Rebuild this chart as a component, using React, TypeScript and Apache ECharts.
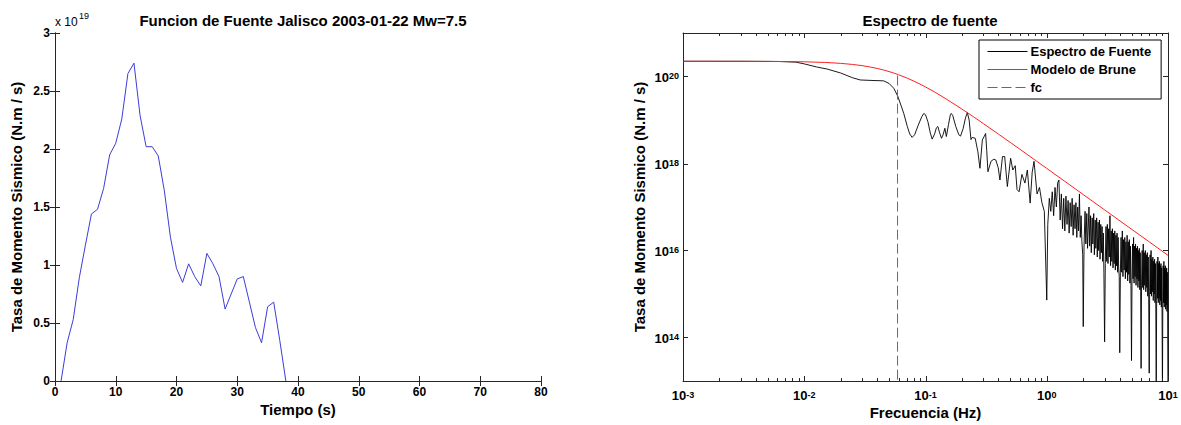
import React, { useEffect, useRef } from "react";
import * as echarts from "echarts";

const FONT = "'Liberation Sans', Arial, Helvetica, sans-serif";
const AXIS_COLOR = "#262626";

// ---------- Left panel: source time function (units of 1e19 N.m/s) ----------
const timeSeconds = [
  1, 2, 3, 4, 5, 6, 7, 8, 9, 10, 11, 12, 13, 14, 15, 16, 17, 18, 19, 20,
  21, 22, 23, 24, 25, 26, 27, 28, 29, 30, 31, 32, 33, 34, 35, 36, 37, 38,
];
const momentRateE19 = [
  0, 0.33, 0.53, 0.89, 1.17, 1.44, 1.48, 1.66, 1.95, 2.05, 2.26, 2.65, 2.74,
  2.29, 2.02, 2.02, 1.94, 1.64, 1.24, 0.97, 0.85, 1.01, 0.9, 0.82, 1.1, 1.01,
  0.9, 0.62, 0.75, 0.88, 0.9, 0.68, 0.46, 0.33, 0.64, 0.68, 0.35, 0,
];
const leftTitle = "Funcion de Fuente Jalisco 2003-01-22 Mw=7.5";
const leftXName = "Tiempo (s)";
const yName = "Tasa de Momento Sismico (N.m / s)";

// ---------- Right panel: source spectrum, [Hz, log10(N.m/s)] ----------
const sourceSpectrum: [number, number][] = [
  [0.001, 20.35], [0.00316, 20.35], [0.0063, 20.345], [0.0085, 20.33],
  [0.01, 20.29], [0.0126, 20.22], [0.0155, 20.17], [0.02, 20.08],
  [0.0251, 19.97], [0.029, 19.92], [0.0355, 19.91], [0.0452, 19.9],
  [0.0501, 19.84], [0.0547, 19.73], [0.059, 19.55], [0.0631, 19.32],
  [0.0662, 19.15], [0.0708, 18.85], [0.0741, 18.68], [0.0776, 18.6],
  [0.0813, 18.66], [0.0871, 18.88], [0.0933, 19.08], [0.0968, 19.15],
  [0.1, 19.12], [0.1047, 18.96], [0.1096, 18.7], [0.1135, 18.56],
  [0.1189, 18.68], [0.123, 18.82], [0.1265, 18.85], [0.1303, 18.72],
  [0.1355, 18.58], [0.1396, 18.66], [0.1445, 18.81], [0.1486, 18.62],
  [0.1549, 18.9], [0.1603, 19.12], [0.1633, 19.15], [0.1679, 19.1],
  [0.1778, 18.85], [0.1884, 18.66], [0.1945, 18.63], [0.2042, 18.8],
  [0.2138, 19.05], [0.2213, 19.17], [0.2291, 19.0], [0.2371, 18.55],
  [0.2427, 18.6], [0.257, 18.58], [0.2704, 18.27], [0.2812, 17.89],
  [0.2944, 18.54], [0.3133, 18.69], [0.3199, 18.3], [0.3273, 17.81],
  [0.3467, 18.05], [0.3664, 18.1], [0.3802, 18.08], [0.3981, 17.9],
  [0.4111, 17.62], [0.4315, 18.16], [0.4498, 18.16], [0.4732, 17.47],
  [0.5035, 18.12], [0.5248, 17.85], [0.5495, 17.95], [0.5689, 17.4],
  [0.5916, 17.35], [0.6237, 17.75], [0.6607, 17.55], [0.6918, 17.85],
  [0.7295, 17.09], [0.7586, 17.8], [0.7852, 18.05], [0.8318, 17.3],
  [0.871, 17.45], [0.912, 17.1], [0.955, 16.9], [1.0, 14.86],
  [1.02, 16.6], [1.05, 17.2], [1.08, 16.9], [1.11, 17.35], [1.14, 16.8],
  [1.17, 17.45], [1.2, 17.0], [1.23, 17.55], [1.26, 17.62], [1.29, 16.7],
  [1.32, 17.3], [1.35, 16.5], [1.38, 17.2], [1.41, 16.45], [1.44, 17.25],
  [1.47, 16.6], [1.5, 17.15], [1.53, 16.4], [1.56, 17.1], [1.59, 16.55],
  [1.62, 17.2], [1.65, 16.35], [1.68, 17.05], [1.71, 16.5], [1.74, 17.1],
  [1.77, 16.3], [1.8, 17.0], [1.83, 16.45], [1.86, 17.3], [1.89, 16.3],
  [1.92, 16.8], [1.95, 16.2], [1.98, 15.9], [2.0, 14.25],
  [2.03, 16.1], [2.07, 16.9], [2.1, 16.15], [2.14, 16.85], [2.17, 16.05],
  [2.23, 17.0], [2.26, 16.1], [2.3, 16.8], [2.33, 15.95], [2.37, 16.75],
  [2.4, 16.15], [2.44, 16.85], [2.47, 15.9], [2.51, 16.7], [2.54, 16.05],
  [2.58, 16.75], [2.61, 15.85], [2.65, 16.65], [2.68, 16.0], [2.72, 16.7],
  [2.75, 15.8], [2.79, 16.6], [2.82, 15.95], [2.86, 16.55], [2.89, 15.75],
  [2.93, 16.4], [2.96, 15.5], [3.0, 13.9],
  [3.04, 15.7], [3.08, 16.55], [3.12, 15.75], [3.16, 16.6], [3.2, 15.7],
  [3.24, 16.5], [3.28, 15.85], [3.32, 16.8], [3.36, 15.65], [3.4, 16.45],
  [3.44, 15.75], [3.48, 16.5], [3.52, 15.6], [3.56, 16.4], [3.6, 15.7],
  [3.64, 16.45], [3.68, 15.55], [3.72, 16.35], [3.76, 15.65], [3.8, 16.4],
  [3.84, 15.5], [3.88, 16.3], [3.92, 15.6], [3.96, 15.4], [4.0, 13.65],
  [4.05, 15.5], [4.1, 16.3], [4.15, 15.5], [4.2, 16.45], [4.25, 15.4],
  [4.3, 16.25], [4.35, 15.55], [4.4, 16.3], [4.45, 15.35], [4.5, 16.2],
  [4.55, 15.5], [4.6, 16.35], [4.65, 15.3], [4.7, 16.2], [4.75, 15.45],
  [4.8, 16.25], [4.85, 15.25], [4.9, 16.1], [4.95, 15.2], [5.0, 13.47],
  [5.05, 15.35], [5.1, 16.15], [5.15, 15.35], [5.2, 16.3], [5.25, 15.25],
  [5.3, 16.1], [5.35, 15.4], [5.4, 16.15], [5.45, 15.2], [5.5, 16.05],
  [5.55, 15.35], [5.6, 16.1], [5.65, 15.15], [5.7, 16.0], [5.75, 15.3],
  [5.8, 16.05], [5.85, 15.1], [5.9, 15.95], [5.95, 15.05], [6.0, 13.29],
  [6.05, 15.2], [6.12, 16.0], [6.18, 15.15], [6.25, 16.15], [6.3, 15.1],
  [6.37, 15.95], [6.43, 15.2], [6.5, 16.0], [6.56, 15.05], [6.62, 15.9],
  [6.68, 15.15], [6.75, 15.95], [6.81, 14.95], [6.87, 15.85], [6.93, 14.9],
  [7.0, 13.18],
  [7.06, 15.05], [7.12, 15.9], [7.18, 15.0], [7.25, 16.0], [7.31, 14.95],
  [7.37, 15.8], [7.43, 15.05], [7.5, 15.85], [7.56, 14.85], [7.62, 15.75],
  [7.68, 15.0], [7.75, 15.8], [7.81, 14.8], [7.87, 15.7], [7.93, 14.7],
  [8.0, 12.8],
  [8.06, 14.85], [8.12, 15.75], [8.18, 14.9], [8.25, 15.85], [8.31, 14.8],
  [8.37, 15.7], [8.43, 14.9], [8.5, 15.75], [8.56, 14.75], [8.62, 15.65],
  [8.68, 14.85], [8.75, 15.7], [8.81, 14.7], [8.87, 15.6], [8.93, 14.65],
  [9.0, 12.7],
  [9.06, 14.75], [9.12, 15.65], [9.18, 14.8], [9.25, 15.75], [9.31, 14.7],
  [9.37, 15.6], [9.43, 14.8], [9.5, 15.65], [9.56, 14.65], [9.62, 15.55],
  [9.68, 14.75], [9.75, 15.6], [9.81, 14.6], [9.87, 15.5], [9.93, 14.65],
  [10.0, 12.6],
];

// Brune model, [Hz, log10(N.m/s)]
const bruneModel: [number, number][] = [
  [0.001, 20.35], [0.002, 20.349], [0.005, 20.347], [0.01, 20.338],
  [0.015, 20.323], [0.02, 20.302], [0.025, 20.277], [0.03, 20.25],
  [0.035, 20.218], [0.04, 20.185], [0.045, 20.15], [0.05, 20.114],
  [0.055, 20.077], [0.06, 20.04], [0.07, 19.967], [0.08, 19.895],
  [0.09, 19.826], [0.1, 19.76], [0.12, 19.637], [0.15, 19.474],
  [0.2, 19.25], [0.25, 19.07], [0.3, 18.918], [0.4, 18.675],
  [0.5, 18.485], [0.7, 18.196], [1, 17.887], [1.5, 17.536],
  [2, 17.286], [3, 16.934], [5, 16.49], [7, 16.199], [10, 15.889],
];

// corner frequency marker
const fcHz = 0.0588;
const fcTopLog = 20.02;
const fcBottomLog = 13;

const rightTitle = "Espectro de fuente";
const rightXName = "Frecuencia (Hz)";
const legendNames = ["Espectro de Fuente", "Modelo de Brune", "fc"];
const legendColors = ["#000000", "#ff2020", "#ff00ff"];

// axis ranges (log axes given as exponents)
const rightXExp = [-3, 1];
const rightYExp = [13, 21];
const rightYMajorExp = [14, 16, 18, 20];
const minorMultipliers = [2, 3, 4, 5, 6, 7, 8, 9];

const labelRich = {
  b: { fontSize: 13, fontWeight: "bold", fontFamily: FONT, color: "#000", lineHeight: 12, verticalAlign: "bottom" },
  s: { fontSize: 9, fontWeight: "bold", fontFamily: FONT, color: "#000", lineHeight: 8, padding: [0, 0, 6, 0], verticalAlign: "top" },
};

function buildOption() {
  const leftGrid = { left: 55, top: 33, width: 486, height: 348 };
  const rightGrid = { left: 683, top: 33, width: 485, height: 348 };

  const boldLabel = { color: "#000", fontWeight: "bold", fontSize: 12, fontFamily: FONT };
  const nameStyle = { color: "#000", fontWeight: "bold", fontSize: 15, fontFamily: FONT };
  const axisLine = { show: true, lineStyle: { color: AXIS_COLOR, width: 1 } };

  // tick items for the right panel: [x, y, length, orientation(0=x,1=y)]
  const tickData: number[][] = [];
  for (let e = rightXExp[0]; e <= rightXExp[1]; e++) {
    tickData.push([Math.pow(10, e), 1e17, 5, 0]);
    if (e < rightXExp[1]) {
      minorMultipliers.forEach((m) => tickData.push([m * Math.pow(10, e), 1e17, 3, 0]));
    }
  }
  rightYMajorExp.forEach((e) => tickData.push([0.01, Math.pow(10, e), 5, 1]));

  const logFormatter = (onlyEven: boolean) => (v: number) => {
    const e = Math.round(Math.log10(v));
    if (onlyEven && e % 2 !== 0) return "";
    return `{b|10}{s|${e}}`;
  };

  return {
    animation: false,
    backgroundColor: "#ffffff",
    textStyle: { fontFamily: FONT },
    title: [
      {
        text: leftTitle,
        left: 298,
        top: 8,
        textAlign: "center",
        textStyle: { fontSize: 15, fontWeight: "bold", fontFamily: FONT, color: "#000" },
      },
      {
        text: rightTitle,
        left: 925,
        top: 8,
        textAlign: "center",
        textStyle: { fontSize: 15, fontWeight: "bold", fontFamily: FONT, color: "#000" },
      },
    ],
    legend: {
      data: legendNames,
      left: 979,
      top: 40,
      orient: "vertical",
      itemWidth: 40,
      itemHeight: 14,
      itemGap: 5,
      padding: [5, 10, 5, 8],
      borderColor: "#000",
      borderWidth: 1,
      borderRadius: 0,
      backgroundColor: "#fff",
      selectedMode: false,
      itemStyle: { opacity: 0 },
      lineStyle: { width: 1, color: "inherit" },
      textStyle: { color: "#000", fontWeight: "bold", fontSize: 13, fontFamily: FONT, padding: [0, 0, 0, -2] },
    },
    graphic: [
      { type: "text", x: 55, y: 22, style: { text: "x 10", fill: "#000", font: `12px ${FONT}`, verticalAlign: "middle" } },
      { type: "text", x: 79, y: 15.5, style: { text: "19", fill: "#000", font: `9px ${FONT}`, verticalAlign: "middle" } },
    ],
    grid: [
      { ...leftGrid, containLabel: false, outerBoundsMode: "none" },
      { ...rightGrid, containLabel: false, outerBoundsMode: "none" },
    ],
    xAxis: [
      {
        type: "value", gridIndex: 0, min: 0, max: 80, interval: 10, position: "bottom",
        axisLine, axisTick: { show: true, inside: true, length: 5, lineStyle: { color: AXIS_COLOR } },
        axisLabel: { ...boldLabel, margin: 5 }, splitLine: { show: false },
        name: leftXName, nameLocation: "middle", nameGap: 21, nameMoveOverlap: false, nameTextStyle: nameStyle,
      },
      {
        type: "value", gridIndex: 0, min: 0, max: 80, interval: 10, position: "top",
        axisLine, axisTick: { show: true, inside: true, length: 5, lineStyle: { color: AXIS_COLOR } },
        axisLabel: { show: false }, splitLine: { show: false },
      },
      {
        type: "log", logBase: 10, gridIndex: 1, min: Math.pow(10, rightXExp[0]), max: Math.pow(10, rightXExp[1]), position: "bottom",
        axisLine, axisTick: { show: false },
        axisLabel: { formatter: logFormatter(false), rich: labelRich, margin: 9 }, splitLine: { show: false },
        name: rightXName, nameLocation: "middle", nameGap: 24, nameMoveOverlap: false, nameTextStyle: nameStyle,
      },
      {
        type: "log", logBase: 10, gridIndex: 1, min: Math.pow(10, rightXExp[0]), max: Math.pow(10, rightXExp[1]), position: "top",
        axisLine, axisTick: { show: false }, axisLabel: { show: false }, splitLine: { show: false },
      },
    ],
    yAxis: [
      {
        type: "value", gridIndex: 0, min: 0, max: 3, interval: 0.5, position: "left",
        axisLine, axisTick: { show: true, inside: true, length: 5, lineStyle: { color: AXIS_COLOR } },
        axisLabel: { ...boldLabel, margin: 5 }, splitLine: { show: false },
        name: yName, nameLocation: "middle", nameGap: 31, nameMoveOverlap: false, nameRotate: 90, nameTextStyle: nameStyle,
      },
      {
        type: "value", gridIndex: 0, min: 0, max: 3, interval: 0.5, position: "right",
        axisLine, axisTick: { show: true, inside: true, length: 5, lineStyle: { color: AXIS_COLOR } },
        axisLabel: { show: false }, splitLine: { show: false },
      },
      {
        type: "log", logBase: 10, gridIndex: 1, min: Math.pow(10, rightYExp[0]), max: Math.pow(10, rightYExp[1]), position: "left",
        axisLine, axisTick: { show: false },
        axisLabel: { formatter: logFormatter(true), rich: labelRich, margin: 4, padding: [2, 0, 0, 0] }, splitLine: { show: false },
        name: yName, nameLocation: "middle", nameGap: 36, nameMoveOverlap: false, nameRotate: 90, nameTextStyle: nameStyle,
      },
      {
        type: "log", logBase: 10, gridIndex: 1, min: Math.pow(10, rightYExp[0]), max: Math.pow(10, rightYExp[1]), position: "right",
        axisLine, axisTick: { show: false }, axisLabel: { show: false }, splitLine: { show: false },
      },
    ],
    series: [
      {
        type: "line", name: "Funcion de fuente", xAxisIndex: 0, yAxisIndex: 0,
        data: timeSeconds.map((t, i) => [t, momentRateE19[i]]),
        symbol: "none", showSymbol: false,
        lineStyle: { color: "#3c3cd8", width: 1 },
        z: 3,
      },
      {
        type: "line", name: legendNames[0], xAxisIndex: 2, yAxisIndex: 2,
        data: sourceSpectrum.map(([f, e]) => [f, Math.pow(10, e)]),
        symbol: "none", showSymbol: false, color: legendColors[0],
        lineStyle: { color: legendColors[0], width: 0.9 },
        z: 3,
      },
      {
        type: "line", name: legendNames[1], xAxisIndex: 2, yAxisIndex: 2,
        data: bruneModel.map(([f, e]) => [f, Math.pow(10, e)]),
        symbol: "none", showSymbol: false, color: legendColors[1],
        lineStyle: { color: legendColors[1], width: 1 },
        z: 4,
      },
      {
        type: "line", name: legendNames[2], xAxisIndex: 2, yAxisIndex: 2,
        data: [[fcHz, Math.pow(10, fcTopLog)], [fcHz, Math.pow(10, fcBottomLog)]],
        symbol: "none", showSymbol: false, color: legendColors[2],
        lineStyle: { color: legendColors[2], width: 1, type: [10, 4] },
        z: 4,
      },
      {
        type: "custom", name: "ticks", xAxisIndex: 2, yAxisIndex: 2,
        silent: true, clip: false, z: 6,
        encode: { x: 0, y: 1 },
        data: tickData,
        renderItem: (params: any, api: any) => {
          const cs = params.coordSys;
          const len = api.value(2);
          const orient = api.value(3);
          const pt = api.coord([api.value(0), api.value(1)]);
          const style = { stroke: AXIS_COLOR, lineWidth: 1 };
          if (orient === 0) {
            const x = Math.round(pt[0]) + 0.5;
            const yb = cs.y + cs.height;
            return {
              type: "group",
              children: [
                { type: "line", shape: { x1: x, y1: yb, x2: x, y2: yb - len }, style },
                { type: "line", shape: { x1: x, y1: cs.y, x2: x, y2: cs.y + len }, style },
              ],
            };
          }
          const y = Math.round(pt[1]) + 0.5;
          const xr = cs.x + cs.width;
          return {
            type: "group",
            children: [
              { type: "line", shape: { x1: cs.x, y1: y, x2: cs.x + len, y2: y }, style },
              { type: "line", shape: { x1: xr, y1: y, x2: xr - len, y2: y }, style },
            ],
          };
        },
      },
    ],
  };
}

export default function App() {
  const ref = useRef<HTMLDivElement>(null);
  useEffect(() => {
    if (!ref.current) return;
    const chart = echarts.init(ref.current, undefined, { renderer: "svg" });
    chart.setOption(buildOption() as any);
    return () => chart.dispose();
  }, []);
  return (
    <div
      ref={ref}
      style={{ position: "fixed", left: 0, top: 0, width: 1181, height: 425, background: "#fff" }}
    />
  );
}
